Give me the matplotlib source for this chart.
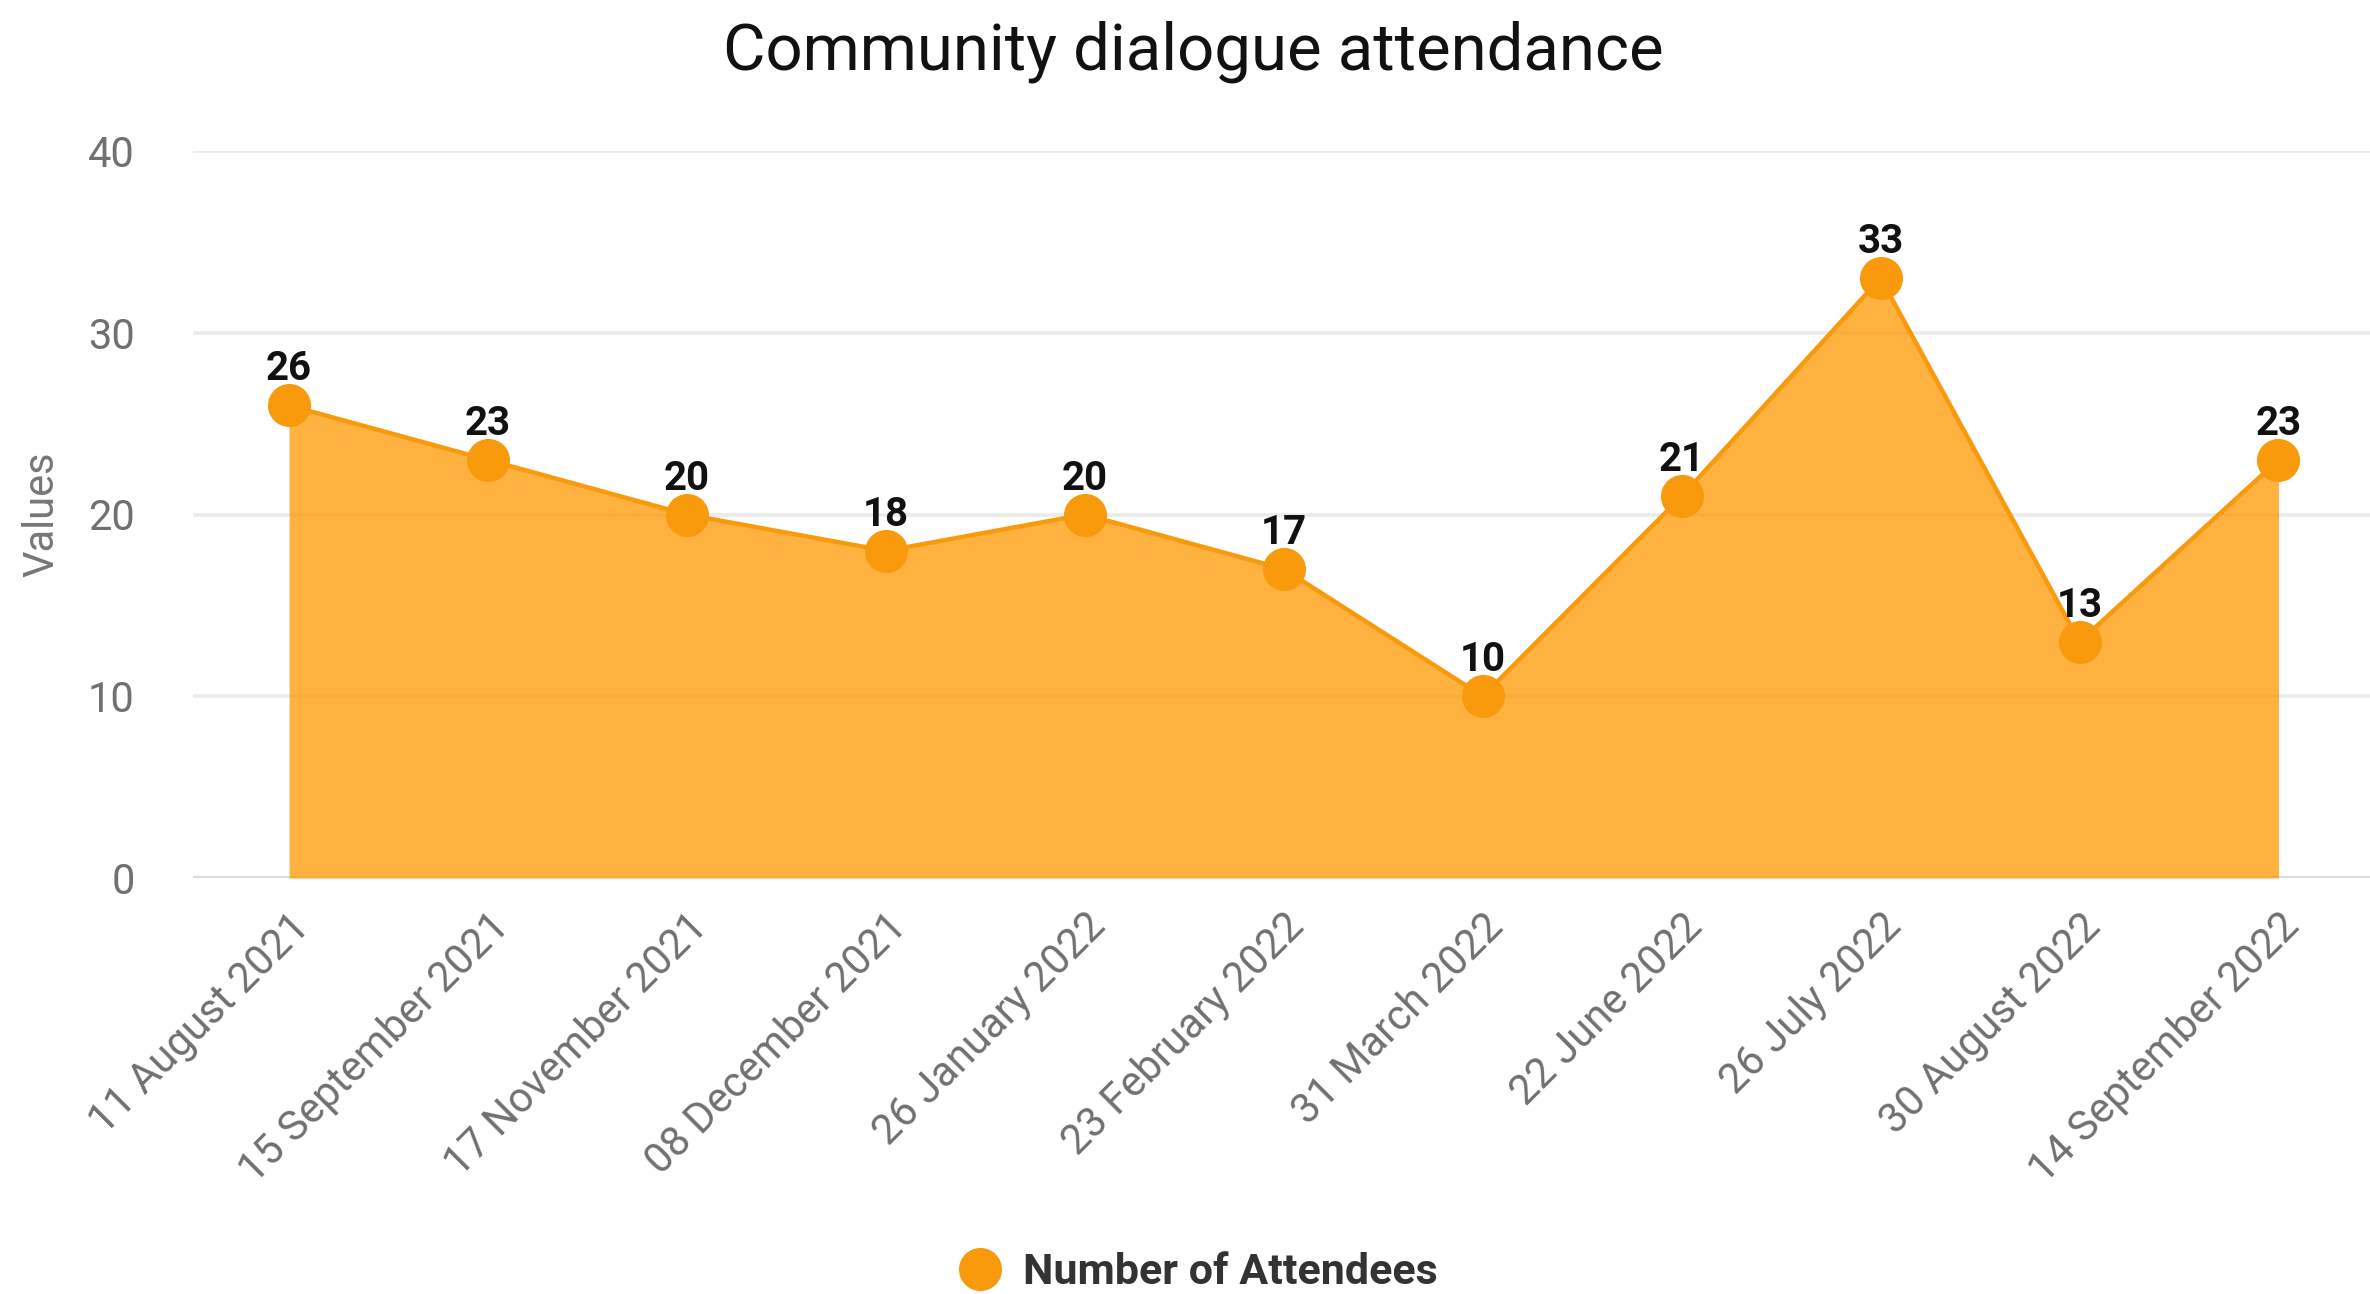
import matplotlib
matplotlib.use("Agg")
import matplotlib.pyplot as plt
from matplotlib.lines import Line2D

plt.rcParams['font.family'] = ['Roboto', 'DejaVu Sans']

dates = ["11 August 2021", "15 September 2021", "17 November 2021", "08 December 2021",
         "26 January 2022", "23 February 2022", "31 March 2022", "22 June 2022",
         "26 July 2022", "30 August 2022", "14 September 2022"]
attendees = [26, 23, 20, 18, 20, 17, 10, 21, 33, 13, 23]
y_ticks = [0, 10, 20, 30, 40]

title = "Community dialogue attendance"
series_name = "Number of Attendees"
y_label = "Values"

LINE = '#F99A0C'
FILL = '#FF9800'

W, H, DPI = 2370, 1294, 100
fig = plt.figure(figsize=(W / DPI, H / DPI), dpi=DPI)
ax = fig.add_axes([193 / W, 1 - 878 / H, 1 - 193 / W, (878 - 151) / H])

x = list(range(len(dates)))
ax.fill_between(x, 0, attendees, color=FILL, alpha=0.75, linewidth=0, zorder=2)
ax.plot(x, attendees, color=LINE, linewidth=3.2, zorder=3)
ax.plot(x, attendees, linestyle='none', marker='o', markersize=30,
        markerfacecolor=LINE, markeredgecolor=LINE, zorder=4, clip_on=False)

for xi, v in zip(x, attendees):
    ax.annotate(str(v), (xi, v), xytext=(0, 18), textcoords='offset points',
                ha='center', va='baseline', fontsize=29, fontweight='bold',
                color='#111111', zorder=5)

ax.set_xlim(-0.483, 10.46)
ax.set_ylim(0, 40)
ax.set_yticks(y_ticks)
ax.set_yticklabels([str(t) for t in y_ticks])
ax.set_xticks(x)
ax.set_xticklabels(dates, rotation=45, ha='right', rotation_mode='anchor')
ax.tick_params(axis='y', length=0, pad=42, labelsize=30, labelcolor='#707070')
ax.tick_params(axis='x', length=0, pad=20, labelsize=30, labelcolor='#707070')

ax.grid(axis='y', color='#ebebeb', linewidth=2.6, zorder=0)
ax.set_axisbelow(True)
ax.axhline(0, color='#d6dde5', linewidth=3, zorder=1)
for s in ax.spines.values():
    s.set_visible(False)

fig.text(42 / W, 1 - 514 / H, y_label, rotation=90, ha='center', va='center',
         fontsize=30, color='#777777')
fig.text(1193 / W, 1 - 52 / H, title, ha='center', va='center', fontsize=47, color='#111111')

handle = Line2D([], [], linestyle='none', marker='o', markersize=30,
                markerfacecolor=LINE, markeredgecolor=LINE)
leg = fig.legend([handle], [series_name], loc='center', bbox_to_anchor=(1198 / W, 1 - 1273 / H),
                 frameon=False, handletextpad=0.5, handlelength=1.0,
                 prop={'size': 31, 'weight': 'bold'})
for t in leg.get_texts():
    t.set_color('#333333')

fig.savefig("out.png", dpi=DPI, facecolor='white')
